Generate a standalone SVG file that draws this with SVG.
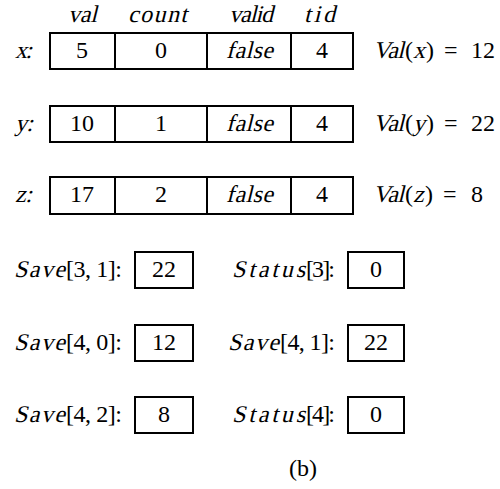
<svg xmlns="http://www.w3.org/2000/svg" width="500" height="489" viewBox="0 0 500 489">
<style>
text{font-family:"Liberation Serif","Times New Roman",serif;font-size:24px;fill:#000}
.c{text-anchor:middle}
.b{fill:none;stroke:#000;stroke-width:2}
</style>
<rect width="500" height="489" fill="#fff"/>
<g id="headers">
<text transform="translate(68,22) skewX(-14)" textLength="29">val</text>
<text transform="translate(128,22) skewX(-14)" textLength="59">count</text>
<text transform="translate(229,22) skewX(-14)" textLength="44">valid</text>
<text transform="translate(304,22) skewX(-14)" textLength="31">tid</text>
</g>
<g id="row-x">
<text transform="translate(15,58) skewX(-14)" textLength="17">x:</text>
<rect class="b" x="50" y="33" width="303" height="36"/>
<path class="b" d="M115 33V69M207 33V69M291 33V69"/>
<text class="c" x="82" y="58">5</text><text class="c" x="161" y="58">0</text>
<text transform="translate(226,58) skewX(-14)" textLength="47">false</text>
<text class="c" x="322" y="58">4</text>
<text transform="translate(373,58) skewX(-14)" textLength="31">Val</text><text x="405" y="58">(</text>
<text transform="translate(413,58) skewX(-14)">x</text><text x="426" y="58">)</text>
<text x="444" y="58">=</text><text x="471" y="58">12</text>
</g>
<g id="row-y">
<text transform="translate(15,131) skewX(-14)" textLength="18">y:</text>
<rect class="b" x="50" y="106" width="303" height="36"/>
<path class="b" d="M115 106V142M207 106V142M291 106V142"/>
<text class="c" x="82" y="131">10</text><text class="c" x="161" y="131">1</text>
<text transform="translate(226,131) skewX(-14)" textLength="47">false</text>
<text class="c" x="322" y="131">4</text>
<text transform="translate(373,131) skewX(-14)" textLength="31">Val</text><text x="405" y="131">(</text>
<text transform="translate(413,131) skewX(-14)">y</text><text x="426" y="131">)</text>
<text x="444" y="131">=</text><text x="471" y="131">22</text>
</g>
<g id="row-z">
<text transform="translate(15,202) skewX(-14)" textLength="17">z:</text>
<rect class="b" x="50" y="177" width="303" height="37"/>
<path class="b" d="M115 177V214M207 177V214M291 177V214"/>
<text class="c" x="82" y="202">17</text><text class="c" x="161" y="202">2</text>
<text transform="translate(226,202) skewX(-14)" textLength="47">false</text>
<text class="c" x="322" y="202">4</text>
<text transform="translate(373,202) skewX(-14)" textLength="31">Val</text><text x="405" y="202">(</text>
<text transform="translate(413,202) skewX(-14)">z</text><text x="425" y="202">)</text>
<text x="443" y="202">=</text><text x="471" y="202">8</text>
</g>
<g id="save31">
<text transform="translate(14,277) skewX(-14)" textLength="51">Save</text><text x="66" y="277" textLength="56">[3, 1]:</text>
<rect class="b" x="135" y="252" width="58" height="36"/><text class="c" x="164" y="277">22</text>
</g>
<g id="status3">
<text transform="translate(232,277) skewX(-14)" textLength="73">Status</text><text x="306" y="277" textLength="29">[3]:</text>
<rect class="b" x="348" y="252" width="56" height="36"/><text class="c" x="376" y="277">0</text>
</g>
<g id="save40">
<text transform="translate(14,350) skewX(-14)" textLength="51">Save</text><text x="66" y="350" textLength="56">[4, 0]:</text>
<rect class="b" x="135" y="325" width="58" height="36"/><text class="c" x="164" y="350">12</text>
</g>
<g id="save41">
<text transform="translate(228,350) skewX(-14)" textLength="51">Save</text><text x="280" y="350" textLength="55">[4, 1]:</text>
<rect class="b" x="348" y="325" width="56" height="36"/><text class="c" x="376" y="350">22</text>
</g>
<g id="save42">
<text transform="translate(14,422) skewX(-14)" textLength="51">Save</text><text x="66" y="422" textLength="56">[4, 2]:</text>
<rect class="b" x="135" y="397" width="58" height="36"/><text class="c" x="164" y="422">8</text>
</g>
<g id="status4">
<text transform="translate(232,422) skewX(-14)" textLength="73">Status</text><text x="306" y="422" textLength="29">[4]:</text>
<rect class="b" x="348" y="397" width="56" height="36"/><text class="c" x="376" y="422">0</text>
</g>
<g id="connectors"/>
<text class="c" x="303" y="476">(b)</text>
</svg>
